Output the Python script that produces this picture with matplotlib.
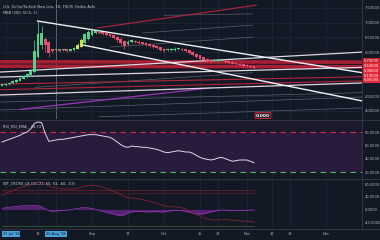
import matplotlib
matplotlib.use('Agg')
import matplotlib.pyplot as plt
import matplotlib.transforms as mtrans
import numpy as np

# ---- data ----
# daily Heikin Ashi bars, Jul 30 2018 .. Nov 5 2018 (weekday index 0..70)
ha_open = [4.86, 4.88, 4.91, 4.94, 4.98, 5.03, 5.10, 5.15, 5.22, 5.32,
           5.85, 6.24, 6.45, 6.35, 6.10, 6.06, 6.07, 6.06, 6.06, 6.05,
           6.07, 6.11, 6.18, 6.30, 6.45, 6.58, 6.66, 6.69, 6.67, 6.64,
           6.61, 6.58, 6.52, 6.46, 6.38, 6.29, 6.33, 6.37, 6.36, 6.33,
           6.30, 6.27, 6.23, 6.20, 6.16, 6.12, 6.06, 6.07, 6.08, 6.10,
           6.10, 6.09, 6.06, 6.01, 5.95, 5.89, 5.83, 5.77, 5.72, 5.69,
           5.69, 5.70, 5.71, 5.68, 5.65, 5.63, 5.60, 5.58, 5.55, 5.53, 5.51]
ha_close = [4.89, 4.92, 4.95, 5.00, 5.05, 5.12, 5.17, 5.24, 5.36, 6.05,
            6.62, 6.66, 6.24, 5.98, 6.05, 6.08, 6.05, 6.07, 6.05, 6.08,
            6.14, 6.25, 6.42, 6.60, 6.70, 6.74, 6.72, 6.65, 6.62, 6.58,
            6.55, 6.47, 6.40, 6.30, 6.20, 6.36, 6.40, 6.35, 6.31, 6.28,
            6.24, 6.20, 6.17, 6.13, 6.08, 6.04, 6.08, 6.10, 6.12, 6.11,
            6.08, 6.03, 5.97, 5.90, 5.83, 5.77, 5.72, 5.68, 5.66, 5.70,
            5.72, 5.72, 5.66, 5.63, 5.61, 5.58, 5.56, 5.53, 5.51, 5.49, 5.46]
ha_high = [4.92, 4.95, 4.98, 5.04, 5.09, 5.16, 5.22, 5.28, 5.42, 6.40,
           7.06, 6.90, 6.50, 6.38, 6.12, 6.12, 6.10, 6.11, 6.09, 6.12,
           6.18, 6.30, 6.48, 6.66, 6.76, 6.82, 6.78, 6.72, 6.70, 6.68,
           6.65, 6.62, 6.56, 6.50, 6.42, 6.42, 6.45, 6.42, 6.40, 6.36,
           6.33, 6.30, 6.26, 6.23, 6.19, 6.15, 6.12, 6.14, 6.16, 6.15,
           6.13, 6.12, 6.08, 6.03, 5.98, 5.91, 5.85, 5.80, 5.75, 5.73,
           5.75, 5.75, 5.73, 5.70, 5.68, 5.65, 5.63, 5.60, 5.58, 5.55, 5.53]
ha_low = [4.84, 4.86, 4.89, 4.92, 4.96, 5.01, 5.08, 5.13, 5.20, 5.30,
          5.80, 6.10, 6.00, 5.85, 5.98, 6.02, 6.02, 6.03, 6.02, 6.03,
          6.05, 6.09, 6.16, 6.28, 6.42, 6.55, 6.62, 6.60, 6.57, 6.54,
          6.50, 6.43, 6.35, 6.24, 6.12, 6.25, 6.30, 6.31, 6.28, 6.25,
          6.21, 6.17, 6.14, 6.10, 6.04, 6.00, 6.03, 6.04, 6.05, 6.06,
          6.04, 6.00, 5.94, 5.86, 5.79, 5.73, 5.69, 5.65, 5.63, 5.66,
          5.67, 5.68, 5.63, 5.60, 5.58, 5.55, 5.53, 5.50, 5.48, 5.46, 5.43]
yellow_bars = [21, 22]

rsi = [65, 67, 69, 71, 73, 75, 78, 80, 85, 93, 95, 94, 78, 66, 67, 68, 69, 69,
       70, 71, 72, 73, 74, 75, 76, 76, 76, 75, 74, 73, 72, 69, 65, 61, 58, 57,
       59, 58, 58, 57, 57, 56, 55, 54, 52, 50, 49, 50, 51, 52, 51, 50, 50, 48,
       45, 42, 40, 39, 38, 39, 41, 42, 40, 38, 36, 37, 38, 38, 38, 36, 34]

wt1 = [45, 50, 55, 60, 64, 68, 72, 75, 78, 82, 86, 85, 80, 74, 70, 68, 66, 65,
       64, 64, 65, 67, 70, 73, 75, 76, 75, 73, 70, 66, 62, 57, 52, 46, 40, 37,
       36, 35, 33, 31, 28, 25, 22, 19, 15, 11, 9, 8, 8, 7, 5, 1, -4, -10, -16,
       -22, -27, -30, -32, -33, -33, -32, -32, -33, -34, -35, -36, -37, -38, -38, -40]
wt_hist = [3, 5, 7, 8, 9, 10, 12, 12, 11, 13, 12, 8, 2, -4, -6, -5, -4, -3, -2,
           -1, 1, 3, 5, 6, 5, 3, 0, -3, -6, -9, -12, -15, -18, -19, -17, -12,
           -8, -6, -6, -7, -8, -8, -7, -7, -8, -8, -6, -4, -3, -3, -4, -6, -9,
           -12, -14, -15, -14, -11, -8, -5, -3, -2, -2, -3, -3, -3, -3, -3, -3, -2, -2]

# drawn trend / level lines: (day0, price0, day1, price1)
white_lines = [(9.7, 7.06, 100, 5.30), (22.5, 6.24, 100, 4.34)]
light_lines = [(-0.6, 5.32, 100, 6.00), (-0.6, 5.15, 100, 5.48), (-0.6, 4.54, 100, 4.95)]
red_bands = [(-0.6, 5.67, 100, 5.66), (-0.6, 5.52, 100, 5.50)]
red_lines = [(-0.6, 4.91, 100, 5.16), (26.4, 6.82, 70.8, 7.60), (-0.6, 4.72, 100, 5.02)]
gray_lines = [(39, 6.65, 69.7, 6.92), (30, 6.17, 69.7, 6.51), (-0.6, 4.03, 100, 4.47),
              (27, 3.80, 100, 4.10), (9, 4.80, 69.7, 5.30), (45, 7.25, 69.7, 7.30),
              (-0.6, 4.30, 100, 4.62)]
purple_lines = [(5, 4.05, 57.8, 4.78)]

price_ticks = [4.0, 4.5, 6.0, 6.5, 7.0, 7.5]
red_tags = [5.70, 5.53, 5.36, 5.19, 5.05]

rsi_ticks = [20, 40, 60, 80]
wt_ticks = [-40, 0, 40, 80]

date_idx = [10, 25, 35, 45, 55, 60, 68, 75, 80, 90]
date_lbl = ['13', 'Sep', '17', 'Oct', '15', '22', 'Nov', '12', '19', 'Dec']
marked_idx = [1, 15]
marked_lbl = ["31 Jul '18", "20 Aug '18"]

BG = '#131825'
TXT = '#b2b5be'
GRID = '#222837'
FS = 2.6

fig = plt.figure(figsize=(3.8, 2.4), dpi=100, facecolor=BG)
W = 362 / 380
ax1 = fig.add_axes([0, 1 - 119 / 240, W, 119 / 240])
ax2 = fig.add_axes([0, 1 - 178 / 240, W, 58 / 240])
ax3 = fig.add_axes([0, 1 - 228 / 240, W, 49 / 240])

for ax in (ax1, ax2, ax3):
    ax.set_facecolor(BG)
    ax.set_xlim(-0.56, 100)
    for s in ax.spines.values():
        s.set_visible(False)
    ax.tick_params(axis='x', length=0, labelbottom=False)
    ax.yaxis.tick_right()
    ax.tick_params(axis='y', length=0, labelsize=FS, colors=TXT, pad=1.8)
    for d in date_idx + marked_idx:
        ax.axvline(d, color=GRID, lw=0.5, zorder=0)
ax1.axvline(marked_idx[1], color='#646a78', lw=0.6, zorder=0)

# ---- main price panel ----
ax1.set_ylim(3.724, 7.772)
ax1.set_yticks(price_ticks)
ax1.set_yticklabels([f'{v:.5f}' for v in price_ticks])
for v in price_ticks:
    ax1.axhline(v, color=GRID, lw=0.5, zorder=0)

def seg(ax, lines, **kw):
    for d0, p0, d1, p1 in lines:
        ax.plot([d0, d1], [p0, p1], solid_capstyle='butt', **kw)

seg(ax1, gray_lines, color='#5c6170', lw=0.5, zorder=1)
seg(ax1, purple_lines, color='#9b35b8', lw=0.9, zorder=1)
seg(ax1, red_bands, color='#a81e34', lw=2.6, zorder=1)
seg(ax1, red_lines, color='#b0263c', lw=0.8, zorder=1)
seg(ax1, light_lines, color='#ded6e0', lw=0.9, zorder=2)
seg(ax1, white_lines, color='#eef0f4', lw=1.0, zorder=3)

x = np.arange(len(ha_open))
o = np.array(ha_open); c = np.array(ha_close)
cols = np.where(c >= o, '#55d08c', '#e4506e').astype(object)
for i in yellow_bars:
    cols[i] = '#cde24a'
body = np.maximum(np.abs(c - o), 0.04)
ax1.vlines(x, ha_low, ha_high, colors=list(cols), lw=0.5, zorder=4)
ax1.bar(x, body, bottom=np.minimum(o, c), width=0.8, color=list(cols), lw=0, zorder=5)

tr = mtrans.blended_transform_factory(ax1.transAxes, ax1.transData)
for i, v in enumerate(red_tags):
    ax1.text(1.005, v, f'{v:.5f}', transform=tr, fontsize=FS, color='white',
             va='center', ha='left', clip_on=False,
             bbox=dict(boxstyle='square,pad=0.25', fc='#e3283b' if i else '#c7202f', ec='none'))
ax1.text(72.5, 3.84, '0.000', fontsize=FS + 0.6, color='white', ha='center', va='center',
         fontweight='bold',
         bbox=dict(boxstyle='round,pad=0.2', fc='#2a1e2c', ec='#e3283b', lw=0.6))

ax1.text(0.008, 0.955, 'U.S. Dollar/Turkish New Lira, 1D, FXCM, Heikin Ashi',
         transform=ax1.transAxes, fontsize=FS, color='#c9ccd4', va='top')
ax1.text(0.008, 0.905, 'MBB (200, 50.5, 2)', transform=ax1.transAxes,
         fontsize=FS, color='#c9ccd4', va='top')

# ---- RSI panel ----
ax2.set_ylim(11, 98)
ax2.axhspan(20, 80, color='#2a1b3c', zorder=0, lw=0)
ax2.axhspan(80, 98, color='#1c192c', zorder=0, lw=0)
ax2.set_yticks(rsi_ticks)
ax2.set_yticklabels([f'{v:.4f}' for v in rsi_ticks])
ax2.axhline(80, color='#c8324a', lw=0.8, ls=(0, (5, 4)), zorder=1)
ax2.axhline(20, color='#4fb85c', lw=0.8, ls=(0, (5, 4)), zorder=1)
ax2.plot(x, rsi, color='#e6d3ea', lw=0.7, zorder=3)
ax2.text(0.008, 0.93, 'RSI_RSI_EMA_  38.74', transform=ax2.transAxes,
         fontsize=FS, color='#c9ccd4', va='top')

# ---- WT cross panel ----
ax3.set_ylim(-58.6, 95.8)
ax3.set_yticks(wt_ticks)
ax3.set_yticklabels([f'{v:.4f}' for v in wt_ticks])
for v, col in [(60, '#6e1c2a'), (53, '#5a1a28'), (-53, '#2f5a34'), (-60, '#3a6b3e')]:
    ax3.plot([x[0], x[-1]], [v, v], color=col, lw=0.6, zorder=1)
ax3.fill_between(x, 0, wt_hist, color='#6e2890', alpha=0.75, lw=0, zorder=2)
ax3.plot(x, wt_hist, color='#9a38b8', lw=0.5, zorder=2)
ax3.plot(x, wt1, color='#6f2232', lw=0.7, zorder=3)
ax3.text(0.008, 0.95, 'WT_CROSS_LB (10, 21, 60, 53, -60, -53)', transform=ax3.transAxes,
         fontsize=FS, color='#c9ccd4', va='top')

# ---- time axis ----
tt = mtrans.blended_transform_factory(ax3.transData, fig.transFigure)
for d, s in zip(date_idx, date_lbl):
    ax3.text(d, 0.025, s, transform=tt, fontsize=FS, color=TXT, ha='center', va='center', clip_on=False)
for k, (d, s) in enumerate(zip(marked_idx, marked_lbl)):
    ax3.text(d if k else 0.2, 0.025, s, transform=tt, fontsize=FS, color='#10141e',
             ha='center' if k else 'left', va='center', clip_on=False,
             bbox=dict(boxstyle='square,pad=0.3', fc='#4aa3df', ec='none'))

# separators
sep = '#363a45'
for yy in (1 - 119.5 / 240, 1 - 178.5 / 240, 1 - 228.5 / 240):
    fig.add_artist(plt.Line2D([0, 1], [yy, yy], color=sep, lw=0.6))
fig.add_artist(plt.Line2D([W, W], [1 - 228.5 / 240, 1], color=sep, lw=0.6))

fig.savefig('out.png', dpi=100, facecolor=BG)
